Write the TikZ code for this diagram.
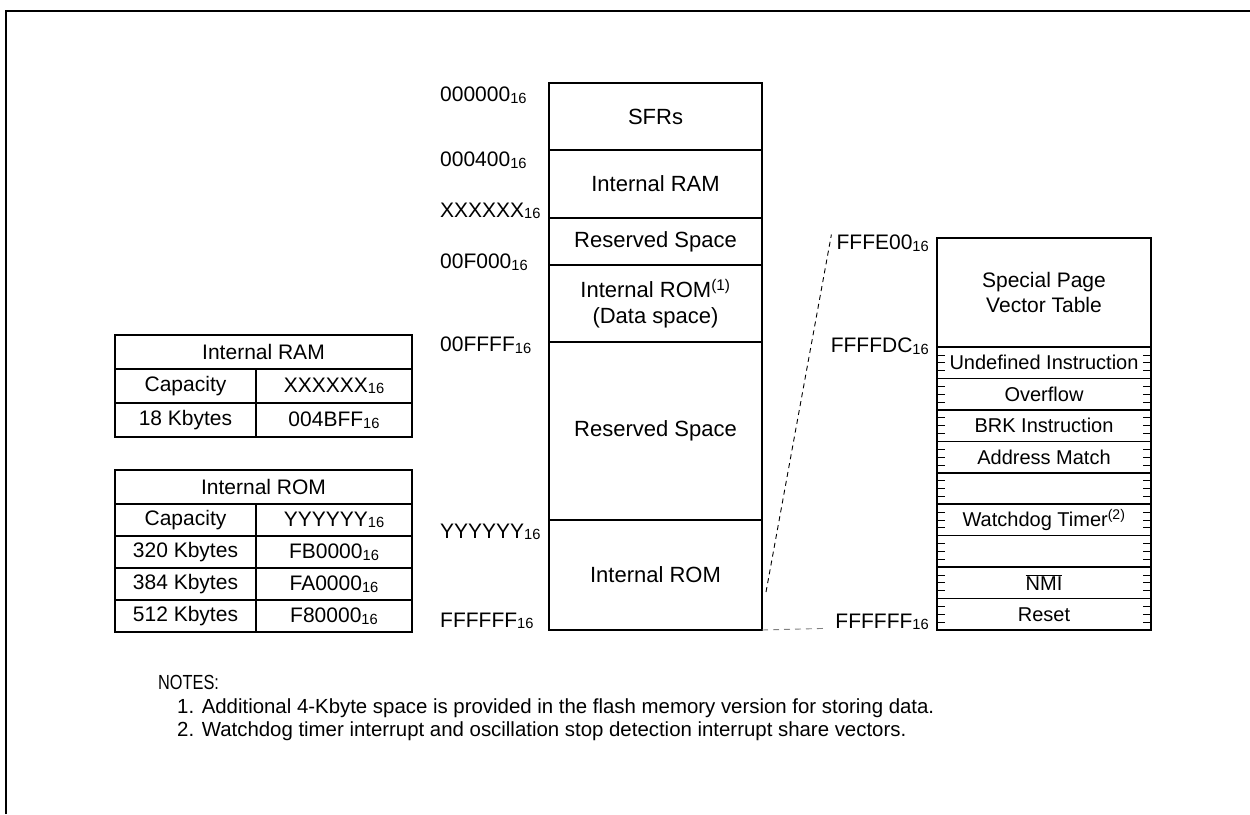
\documentclass[tikz,border=0pt]{standalone}
\usepackage{fontspec}
\setmainfont{Liberation Sans}
\usetikzlibrary{positioning}

\newcommand{\hx}[1]{#1\raisebox{-0.15ex}{\scalebox{0.7}{16}}}

\begin{document}
\begin{tikzpicture}[
  x=1pt, y=-1pt,
  font=\fontsize{21}{25}\selectfont,
  mem/.style={draw, line width=1.6pt, minimum width=213pt, inner sep=0pt, outer sep=0pt, align=center, font=\fontsize{22}{26}\selectfont},
  vec/.style={draw, line width=1.6pt, minimum width=214pt, minimum height=31.44pt, inner sep=0pt, outer sep=0pt, anchor=north west, font=\fontsize{20}{24}\selectfont},
  adr/.style={anchor=west, inner sep=0pt},
  radr/.style={anchor=east, inner sep=0pt},
  cell/.style={draw, line width=1.6pt, inner sep=0pt, outer sep=0pt, anchor=north west},
  tick/.style={line width=0.7pt},
  zoomln/.style={line width=0.9pt, dash pattern=on 5pt off 4pt},
  noteln/.style={anchor=west, inner sep=0pt, font=\fontsize{20.4}{24}\selectfont}
]
\useasboundingbox (0,0) rectangle (1250,814);
% frame
\draw[line width=2.5pt] (6,814) -- (6,11) -- (1250,11);

%============ MEMORY MAP ============
\node[mem, minimum height=67pt, anchor=north west] (sfr) at (549,83) {SFRs};
\node[mem, minimum height=68pt, below=0pt of sfr] (iram) {Internal RAM};
\node[mem, minimum height=47pt, below=0pt of iram] (rsv1) {Reserved Space};
\node[mem, minimum height=77pt, below=0pt of rsv1] (drom) {Internal ROM\textsuperscript{(1)}\\(Data space)};
\node[mem, minimum height=178pt, below=0pt of drom] (rsv2) {Reserved Space};
\node[mem, minimum height=110pt, below=0pt of rsv2] (irom) {Internal ROM};
% addresses
\node[adr] (a1) at (440,95) {\hx{000000}};
\node[adr] (a2) at (440,160) {\hx{000400}};
\node[adr] (a3) at (440,211) {\hx{XXXXXX}};
\node[adr] (a4) at (440,262) {\hx{00F000}};
\node[adr] (a5) at (440,345) {\hx{00FFFF}};
\node[adr] (a6) at (440,532) {\hx{YYYYYY}};
\node[adr] (a7) at (440,621) {\hx{FFFFFF}};

%============ VECTOR TABLE ============
\node[minimum width=214pt, minimum height=109pt, inner sep=0pt, outer sep=0pt, anchor=north west, align=center] (spvt) at (937,238) {Special Page\\Vector Table};
\draw[line width=1.6pt] (spvt.south west) -- (spvt.north west) -- (spvt.north east) -- (spvt.south east);
\draw[line width=1.6pt, dash pattern=on 5pt off 3pt] (spvt.south west) -- (spvt.south east);
\foreach \lbl [count=\i from 0] in {Undefined Instruction, Overflow, BRK Instruction, Address Match, {}, Watchdog Timer\textsuperscript{(2)}, {}, $\overline{\mbox{NMI}}$, Reset}
  \node[vec] (v\i) at (937,{347+\i*31.44}) {\lbl};
% byte ticks
\foreach \i in {0,...,8}
  \foreach \k in {1,2,3} {
    \draw[tick] ([yshift=-\k*7.86pt]v\i.north west) -- ++(8,0);
    \draw[tick] ([yshift=-\k*7.86pt]v\i.north east) -- ++(-8,0);
  }
\node[radr] (fe00) at (929,243) {\hx{FFFE00}};
\node[radr] (fdc) at (929,346) {\hx{FFFFDC}};
\node[radr] (fff) at (929,622) {\hx{FFFFFF}};
% zoom lines
\coordinate (zlo) at (766,592);
\draw[zoomln] (zlo) -- ([xshift=-5pt]fe00.north west);
\draw[zoomln, gray, dash pattern=on 6pt off 5pt] (irom.south east) -- ([xshift=-8pt]fff.base west);

%============ CAPACITY TABLES ============
\node[cell, minimum width=297pt, minimum height=34pt] (ramt) at (115,335) {Internal RAM};
\node[cell, minimum width=141pt, minimum height=34pt] (ramc1) at (ramt.south west) {Capacity};
\node[cell, minimum width=156pt, minimum height=34pt] (ramv1) at (ramc1.north east) {\hx{XXXXXX}};
\node[cell, minimum width=141pt, minimum height=34pt] (ramc2) at (ramc1.south west) {18 Kbytes};
\node[cell, minimum width=156pt, minimum height=34pt] (ramv2) at (ramc2.north east) {\hx{004BFF}};

\node[cell, minimum width=297pt, minimum height=34pt] (romt) at (115,470) {Internal ROM};
\foreach \capa/\addr [count=\i from 0] in {Capacity/\hx{YYYYYY}, 320 Kbytes/\hx{FB0000}, 384 Kbytes/\hx{FA0000}, 512 Kbytes/\hx{F80000}} {
  \node[cell, minimum width=141pt, minimum height=32pt] (romc\i) at (115,{504+\i*32}) {\capa};
  \node[cell, minimum width=156pt, minimum height=32pt] (romv\i) at (romc\i.north east) {\addr};
}

%============ NOTES ============
\node[noteln] (notes) at (158,682) {\scalebox{0.8}[1]{NOTES:}};
\node[noteln] (n1) at (177,708) {1. Additional 4-Kbyte space is provided in the flash memory version for storing data.};
\node[noteln] (n2) at (177,731) {2. Watchdog timer interrupt and oscillation stop detection interrupt share vectors.};
\end{tikzpicture}
\end{document}
